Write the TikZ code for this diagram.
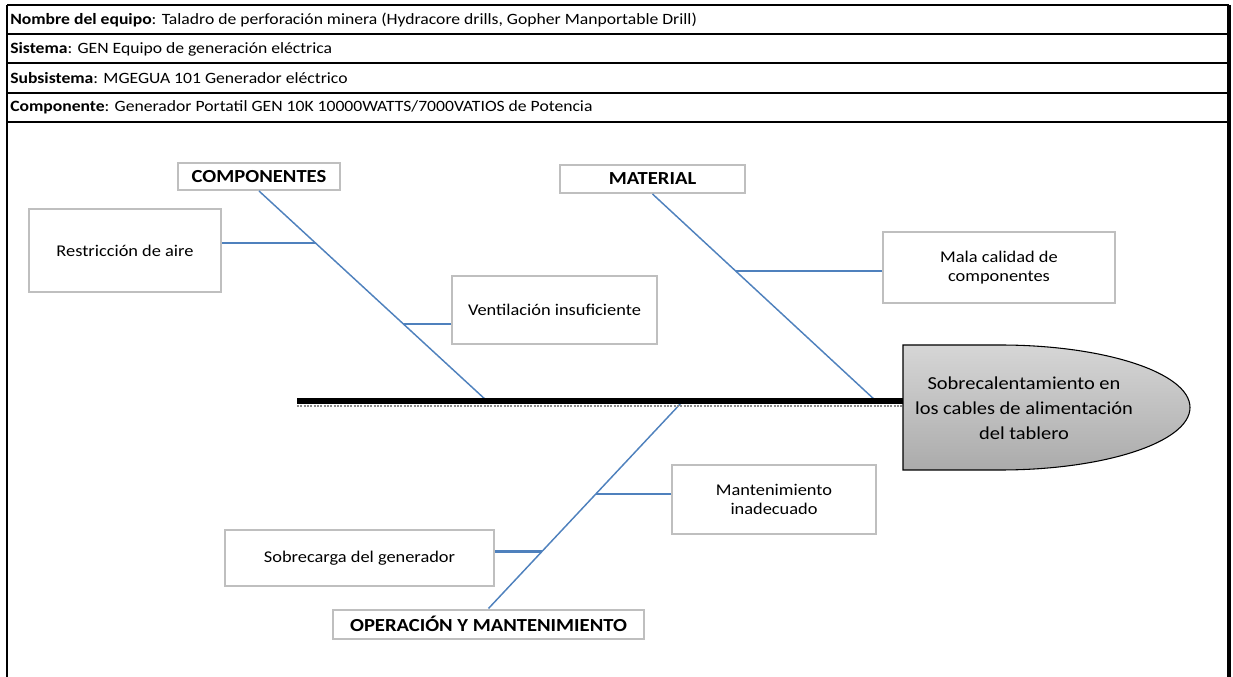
\documentclass[tikz,border=0pt]{standalone}
\usepackage{fontspec}
\setmainfont{Carlito}[FakeStretch=1.12]
\usepackage{xcolor}
\usetikzlibrary{calc}
\definecolor{ink}{HTML}{000000}
\definecolor{bone}{HTML}{4F81BD}
\definecolor{boxline}{HTML}{BFBFBF}
\definecolor{headtop}{HTML}{D6D6D6}
\definecolor{headbot}{HTML}{ABABAB}
\definecolor{shadowgrey}{HTML}{8C8C8C}

\begin{document}
\begin{tikzpicture}[x=0.75pt, y=-0.75pt, font=\fontsize{12.3}{14.5}\selectfont]
  \def\u{0.75pt}                 % one pixel of the sheet
  \useasboundingbox (0,0) rectangle (1233,677);
  \tikzset{
    rowtext/.style={anchor=west, inner sep=0pt, text=ink,
                    font=\fontsize{11.8}{14}\selectfont},
    causebox/.style={draw=boxline, line width=1.5pt, fill=white,
                     align=center, inner sep=0pt, text=ink},
    catbox/.style={causebox, font=\fontsize{13.8}{16}\selectfont\bfseries},
    bonestyle/.style={draw=bone, line width=1.1pt},
    twig/.style={draw=bone, line width=1.8pt}}

  % ========== the header: four rows of the equipment record ===============
  \draw[ink, line width=0.8pt] (7,5) -- (1229,5);
  \foreach \y in {34,63,93,122}
    \draw[ink, line width=2pt] (7,\y) -- (1229,\y);
  \draw[ink, line width=0.8pt] (7,5) -- (7,677);
  \draw[ink, line width=2.5pt] (1229,5) -- (1229,677);

  \node[rowtext] (rowequipo) at (10,20)
    {\textbf{Nombre del equipo}: Taladro de perforación minera (Hydracore drills, Gopher Manportable Drill)};
  \node[rowtext] (rowsistema) at (10,49)
    {\textbf{Sistema}: GEN Equipo de generación eléctrica};
  \node[rowtext] (rowsub) at (10,78)
    {\textbf{Subsistema}: MGEGUA 101 Generador eléctrico};
  \node[rowtext] (rowcomp) at (10,107)
    {\textbf{Componente}: Generador Portatil GEN 10K 10000WATTS/7000VATIOS de Potencia};

  % ========== the boxes: categories and causes ============================
  \node[catbox, minimum width={162*\u}, minimum height={27*\u}] (compo)
    at (259,176.5) {COMPONENTES};
  \node[catbox, minimum width={185*\u}, minimum height={28*\u}] (mater)
    at (652.5,179) {MATERIAL};
  \node[catbox, minimum width={311*\u}, minimum height={29*\u}] (opera)
    at (488.5,624) {OPERACIÓN Y MANTENIMIENTO};

  \node[causebox, minimum width={192*\u}, minimum height={83*\u}] (restr)
    at (125,250.5) {Restricción de aire};
  \node[causebox, minimum width={205*\u}, minimum height={68*\u}] (venti)
    at (554.5,310) {Ventilación insuficiente};
  \node[causebox, minimum width={232*\u}, minimum height={71*\u}] (mala)
    at (999,267.5) {Mala calidad de\\componentes};
  \node[causebox, minimum width={204*\u}, minimum height={69*\u}] (mante)
    at (774,499.5) {Mantenimiento\\inadecuado};
  \node[causebox, minimum width={269*\u}, minimum height={56*\u}] (sobre)
    at (359.5,558) {Sobrecarga del generador};

  % ========== the head: the effect =========================================
  \coordinate (tail) at (297,401);
  \coordinate (neck) at (903,401);
  \draw[ink, line width=0.8pt, top color=headtop, bottom color=headbot]
    (903,345) -- (1000,345)
    arc[start angle=-90, end angle=90, x radius=190, y radius=62.5]
    -- (903,470) -- cycle;
  \node[font=\fontsize{13.7}{18.75}\selectfont, align=center, text=ink] (head)
    at (1024,408) {Sobrecalentamiento en\\los cables de alimentación\\del tablero};

  % ========== the bones, from each category to the spine ==================
  \coordinate (s1) at (487,401);
  \coordinate (s2) at (876,401);
  \coordinate (s3) at (683,401);
  \draw[bonestyle] (compo.south) -- (s1);
  \draw[bonestyle] (mater.south) -- (s2);
  \draw[bonestyle] (opera.north) -- (s3);

  % the twigs meet the bones at fixed fractions of their length
  \coordinate (k1) at ($(compo.south)!0.249!(s1)$);
  \coordinate (k2) at ($(compo.south)!0.632!(s1)$);
  \coordinate (k3) at ($(mater.south)!0.372!(s2)$);
  \coordinate (k4) at ($(opera.north)!0.553!(s3)$);
  \coordinate (k5) at ($(opera.north)!0.274!(s3)$);
  \draw[twig] (restr.east |- k1) -- (k1);
  \draw[twig] (venti.west |- k2) -- (k2);
  \draw[twig] (mala.west |- k3) -- (k3);
  \draw[twig] (mante.west |- k4) -- (k4);
  \draw[twig] (sobre.east |- k5) -- (k5);

  % --- the spine, drawn last so the bones end under it ---------------------
  \draw[shadowgrey, line width=1.5pt, densely dotted]
    ($(tail)+(0,5)$) -- ($(neck)+(0,5)$);
  \draw[ink, line width=4pt] (tail) -- (neck);
\end{tikzpicture}
\end{document}
